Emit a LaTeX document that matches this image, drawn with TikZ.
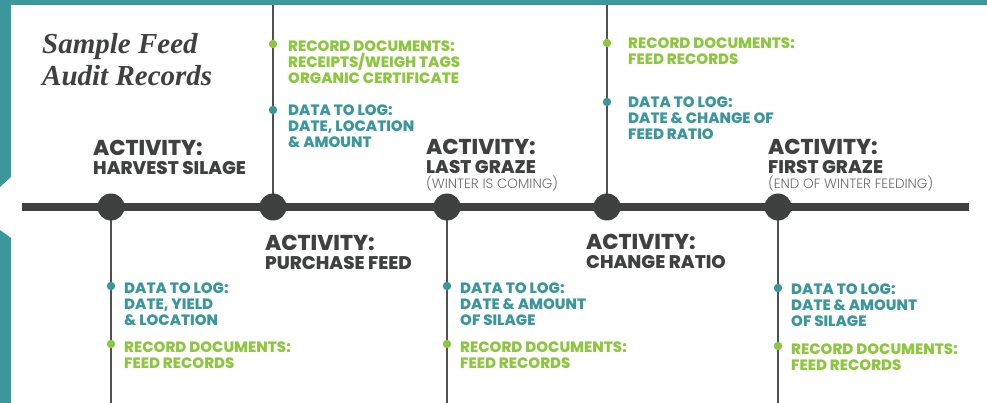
\documentclass[tikz,border=0pt]{standalone}
\usepackage{fontspec}
\newfontfamily\popx{Poppins ExtraBold}
\newfontfamily\popl{Poppins Light}
\newfontfamily\scr{Liberation Serif}
\definecolor{teal0}{RGB}{59,151,155}
\definecolor{green0}{RGB}{141,198,63}
\definecolor{dark}{RGB}{63,64,64}
\definecolor{stemc}{RGB}{80,80,80}
\definecolor{lightg}{RGB}{105,106,108}
\begin{document}
\begin{tikzpicture}[x=1pt,y=-1pt,
  frame/.style={fill=teal0,draw=none},
  spine/.style={draw=dark,line width=8pt},
  stem/.style={draw=stemc,line width=2pt},
  hub/.style={circle,fill=dark,minimum size=27pt,inner sep=0pt},
  tdot/.style={circle,fill=teal0,minimum size=8.5pt,inner sep=0pt},
  gdot/.style={circle,fill=green0,minimum size=8.5pt,inner sep=0pt},
  info/.style={anchor=north west,inner sep=0pt,align=left,font=\popx\fontsize{15}{16}\selectfont},
  tinfo/.style={info,text=teal0},
  ginfo/.style={info,text=green0},
  act/.style={anchor=north west,inner sep=0pt,align=left,text=dark,font=\popx\fontsize{21.5}{19}\selectfont},
]
\useasboundingbox (0,0) rectangle (987,403);
% frame
\fill[frame] (0,0) rectangle (987,5);
\fill[frame] (0,0) -- (11,0) -- (11,177) -- (0,187) -- cycle;
\fill[frame] (0,230) -- (11,238) -- (11,403) -- (0,403) -- cycle;
% coordinates
\coordinate (sL) at (22,207);
\coordinate (sR) at (969,207);
\coordinate (b1) at (111,403);
\coordinate (t2) at (273,5);
\coordinate (b3) at (447,403);
\coordinate (t4) at (607,5);
\coordinate (b5) at (778,403);
\path (111,207) coordinate (c1) (273,207) coordinate (c2) (447,207) coordinate (c3)
      (607,207) coordinate (c4) (778,207) coordinate (c5);
% stems
\draw[stem] (c1) -- (b1);
\draw[stem] (c2) -- (t2);
\draw[stem] (c3) -- (b3);
\draw[stem] (c4) -- (t4);
\draw[stem] (c5) -- (b5);
% spine
\draw[spine] (sL) -- (sR);
% hubs
\node[hub] (h1) at (c1) {};
\node[hub] (h2) at (c2) {};
\node[hub] (h3) at (c3) {};
\node[hub] (h4) at (c4) {};
\node[hub] (h5) at (c5) {};
% dots
\node[tdot] (d1a) at (111,286) {};
\node[gdot] (d1b) at (111,344) {};
\node[gdot] (d2a) at (273,44) {};
\node[tdot] (d2b) at (273,110) {};
\node[tdot] (d3a) at (447,286) {};
\node[gdot] (d3b) at (447,344) {};
\node[gdot] (d4a) at (607,43) {};
\node[tdot] (d4b) at (607,102) {};
\node[tdot] (d5a) at (778,288) {};
\node[gdot] (d5b) at (778,346) {};
% info texts
\node[tinfo] (x1a) at (124,283) {DATA TO LOG:\\DATE, YIELD\\\& LOCATION};
\node[ginfo] (x1b) at (124,342) {RECORD DOCUMENTS:\\FEED RECORDS};
\node[ginfo] (x2a) at (288,41) {RECORD DOCUMENTS:\\RECEIPTS/WEIGH TAGS\\ORGANIC CERTIFICATE};
\node[tinfo] (x2b) at (288,105) {DATA TO LOG:\\DATE, LOCATION\\\& AMOUNT};
\node[tinfo] (x3a) at (460,283) {DATA TO LOG:\\DATE \& AMOUNT\\OF SILAGE};
\node[ginfo] (x3b) at (460,342) {RECORD DOCUMENTS:\\FEED RECORDS};
\node[ginfo] (x4a) at (628,38) {RECORD DOCUMENTS:\\FEED RECORDS};
\node[tinfo] (x4b) at (628,97) {DATA TO LOG:\\DATE \& CHANGE OF\\FEED RATIO};
\node[tinfo] (x5a) at (791,284) {DATA TO LOG:\\DATE \& AMOUNT\\OF SILAGE};
\node[ginfo] (x5b) at (791,344) {RECORD DOCUMENTS:\\FEED RECORDS};
% activities
\node[act] (a1) at (93,140) {ACTIVITY:\\{\fontsize{18.3}{19}\selectfont HARVEST SILAGE}};
\node[act] (a2) at (265,235) {ACTIVITY:\\{\fontsize{18.3}{19}\selectfont PURCHASE FEED}};
\node[act] (a3) at (426,139) {ACTIVITY:\\{\fontsize{18.3}{19}\selectfont LAST GRAZE}\\[-4pt]{\popl\color{lightg}\fontsize{13.5}{14}\selectfont (WINTER IS COMING)}};
\node[act] (a4) at (586,234) {ACTIVITY:\\{\fontsize{18.3}{19}\selectfont CHANGE RATIO}};
\node[act] (a5) at (768,139) {ACTIVITY:\\{\fontsize{18.3}{19}\selectfont FIRST GRAZE}\\[-4pt]{\popl\color{lightg}\fontsize{13.5}{14}\selectfont (END OF WINTER FEEDING)}};
% title
\node[anchor=north west,inner sep=0pt,align=left,text=dark,font=\scr\bfseries\itshape\fontsize{29}{32}\selectfont] (title) at (42,33) {Sample Feed\\Audit Records};
\end{tikzpicture}
\end{document}
